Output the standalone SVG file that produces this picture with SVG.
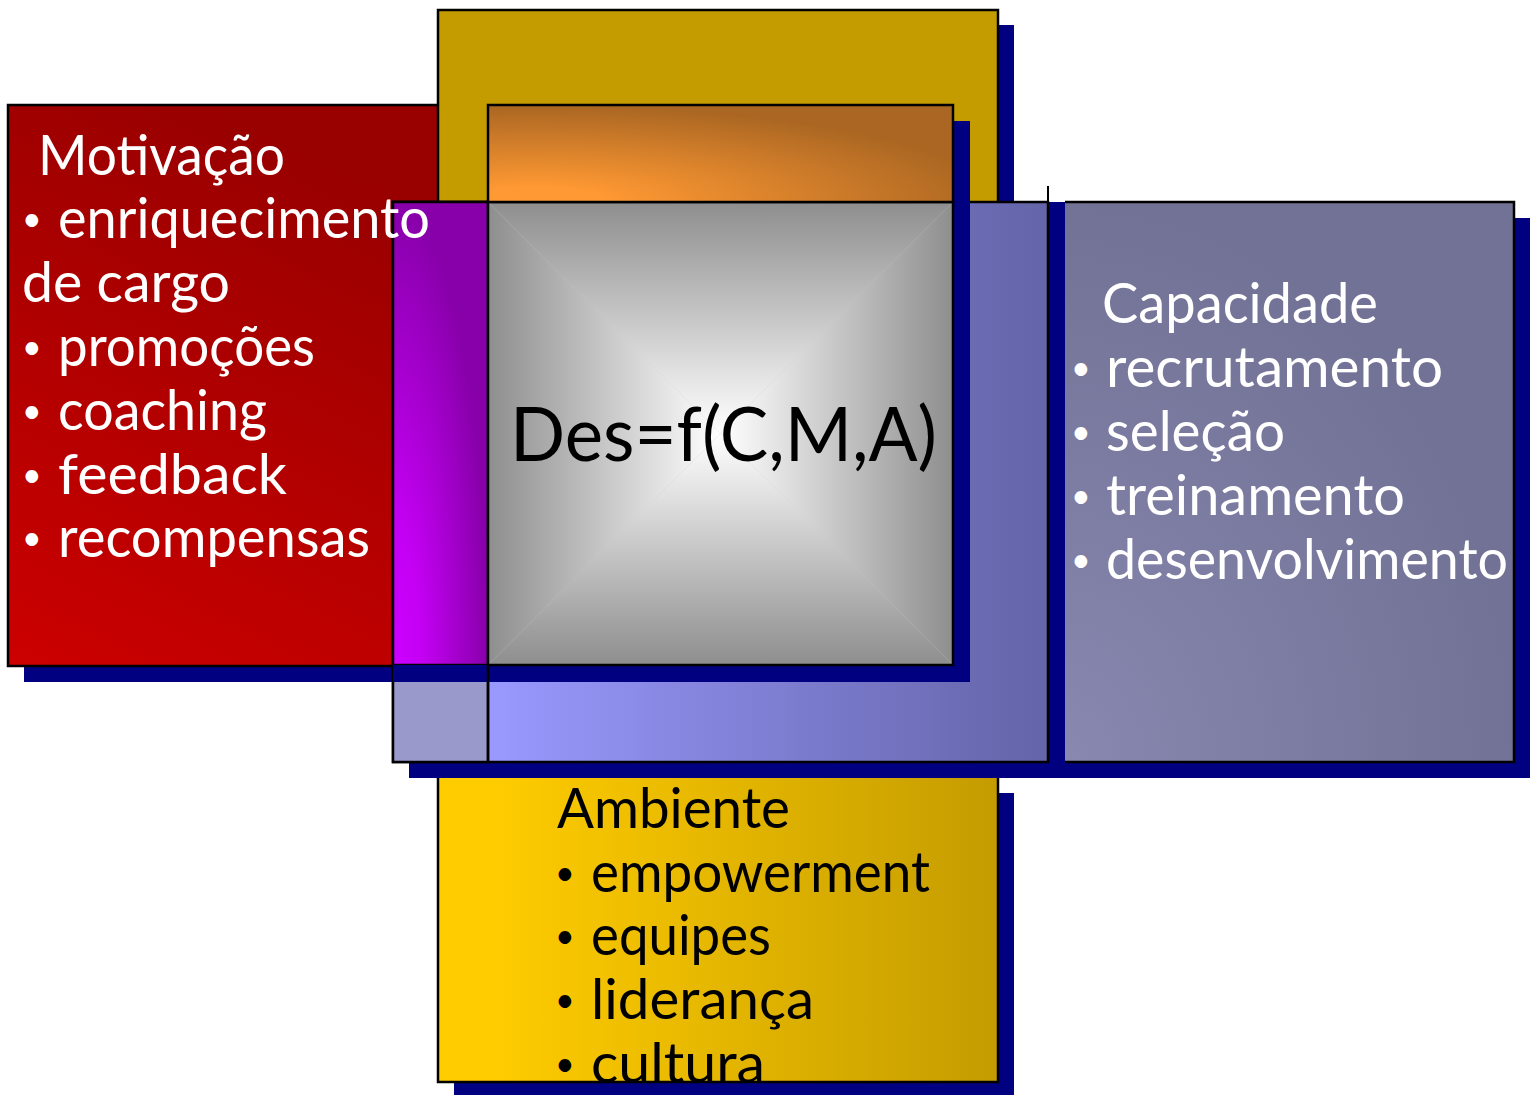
<svg xmlns="http://www.w3.org/2000/svg" width="1533" height="1095" viewBox="0 0 1533 1095">
<defs>
<style>
.sh{fill:#000080}
.bd{stroke:#000;stroke-width:2.5}
.tw{fill:#fff;font-family:Lato,"Open Sans","DejaVu Sans",sans-serif;font-size:56px}
.tb{fill:#000;font-family:Lato,"Open Sans","DejaVu Sans",sans-serif;font-size:56px}
.tf{fill:#000;font-family:Lato,"Open Sans","DejaVu Sans",sans-serif;font-size:76px}
.bu{font-size:34px}
</style>
<linearGradient id="gRed" x1="0.4" y1="0" x2="0" y2="1"><stop offset="0" stop-color="#990000"/><stop offset="1" stop-color="#cc0000"/></linearGradient>
<linearGradient id="gAmb" x1="0" y1="0" x2="1" y2="0"><stop offset="0" stop-color="#ffcc00"/><stop offset="0.1" stop-color="#ffcc00"/><stop offset="1" stop-color="#c49c00"/></linearGradient>
<linearGradient id="gBlue" gradientUnits="userSpaceOnUse" x1="488" y1="0" x2="1048" y2="0"><stop offset="0" stop-color="#9999ff"/><stop offset="1" stop-color="#6464a8"/></linearGradient>
<radialGradient id="gMag" cx="0" cy="1" r="1" fx="0" fy="1"><stop offset="0" stop-color="#cc00ff"/><stop offset="0.3" stop-color="#c400f4"/><stop offset="1" stop-color="#8800aa"/></radialGradient>
<radialGradient id="gOra" cx="0.1" cy="1" r="1" fx="0.1" fy="1"><stop offset="0" stop-color="#ff9933"/><stop offset="0.15" stop-color="#ff9933"/><stop offset="1" stop-color="#aa6622"/></radialGradient>
<radialGradient id="gCap" cx="0" cy="1" r="1" fx="0" fy="1"><stop offset="0" stop-color="#8888b0"/><stop offset="1" stop-color="#727296"/></radialGradient>
<linearGradient id="gT" gradientUnits="userSpaceOnUse" x1="0" y1="202" x2="0" y2="433.5"><stop offset="0" stop-color="#8e8e8e"/><stop offset="1" stop-color="#ffffff"/></linearGradient>
<linearGradient id="gB" gradientUnits="userSpaceOnUse" x1="0" y1="665" x2="0" y2="433.5"><stop offset="0" stop-color="#8e8e8e"/><stop offset="1" stop-color="#ffffff"/></linearGradient>
<linearGradient id="gL" gradientUnits="userSpaceOnUse" x1="488" y1="0" x2="720.5" y2="0"><stop offset="0" stop-color="#8e8e8e"/><stop offset="1" stop-color="#ffffff"/></linearGradient>
<linearGradient id="gR" gradientUnits="userSpaceOnUse" x1="953" y1="0" x2="720.5" y2="0"><stop offset="0" stop-color="#8e8e8e"/><stop offset="1" stop-color="#ffffff"/></linearGradient>
</defs>

<g id="motivacao-box">
<rect class="sh" x="24" y="121" width="465" height="561"/>
<rect class="bd" x="8" y="105" width="481" height="561" fill="url(#gRed)"/>
</g>

<g id="topo">
<rect class="sh" x="454" y="25" width="560" height="300"/>
<rect class="bd" x="438" y="10" width="560" height="300" fill="#c49c00"/>
</g>

<g id="ambiente-box">
<rect class="sh" x="454" y="793" width="560" height="310"/>
<rect class="bd" x="438" y="700" width="560" height="382" fill="url(#gAmb)"/>
</g>

<g id="moldura">
<rect class="sh" x="409" y="218" width="655" height="560"/>
<rect class="sh" x="1048" y="202" width="33" height="576"/>
<rect class="bd" x="393" y="202" width="655" height="560" fill="url(#gBlue)"/>
<rect class="bd" x="393" y="202" width="95" height="560" fill="#9999cc"/>
<rect class="bd" x="393" y="202" width="95" height="463" fill="url(#gMag)"/>
<line x1="1048" y1="186" x2="1048" y2="202" stroke="#000" stroke-width="2"/>
</g>

<g id="centro">
<rect class="sh" x="504" y="121" width="466" height="561"/>
<rect class="sh" x="393" y="665" width="111" height="17"/>
<line x1="488" y1="665" x2="488" y2="762" stroke="#000" stroke-width="2.5"/>
<rect x="488" y="202" width="465" height="463" fill="#c6c6c6"/>
<polygon points="488,202 953,202 720.5,433.5" fill="url(#gT)"/>
<polygon points="488,665 953,665 720.5,433.5" fill="url(#gB)"/>
<polygon points="488,202 488,665 720.5,433.5" fill="url(#gL)"/>
<polygon points="953,202 953,665 720.5,433.5" fill="url(#gR)"/>
<rect class="bd" x="488" y="202" width="465" height="463" fill="none"/>
<rect class="bd" x="488" y="105" width="465" height="97" fill="url(#gOra)"/>
<text class="tf" x="510" y="461" textLength="427" lengthAdjust="spacingAndGlyphs">Des=f(C,M,A)</text>
</g>

<g id="capacidade-box">
<rect class="sh" x="1081" y="218" width="449" height="560"/>
<rect x="1065" y="202" width="449" height="560" fill="url(#gCap)"/>
<path d="M1065,202 H1514 V762 H1065" fill="none" stroke="#000" stroke-width="2.5"/>
</g>

<g id="motivacao">
<text class="tw" x="38" y="175" textLength="247" lengthAdjust="spacingAndGlyphs">Motivação</text>
<text class="tw" y="238"><tspan class="bu" x="22" dy="-7">•</tspan><tspan x="58" dy="7" textLength="372" lengthAdjust="spacingAndGlyphs">enriquecimento</tspan></text>
<text class="tw" x="22" y="302" textLength="208" lengthAdjust="spacingAndGlyphs">de cargo</text>
<text class="tw" y="366"><tspan class="bu" x="22" dy="-7">•</tspan><tspan x="58" dy="7" textLength="257" lengthAdjust="spacingAndGlyphs">promoções</tspan></text>
<text class="tw" y="430"><tspan class="bu" x="22" dy="-7">•</tspan><tspan x="58" dy="7" textLength="209" lengthAdjust="spacingAndGlyphs">coaching</tspan></text>
<text class="tw" y="494"><tspan class="bu" x="22" dy="-7">•</tspan><tspan x="58" dy="7" textLength="229" lengthAdjust="spacingAndGlyphs">feedback</tspan></text>
<text class="tw" y="557"><tspan class="bu" x="22" dy="-7">•</tspan><tspan x="58" dy="7" textLength="312" lengthAdjust="spacingAndGlyphs">recompensas</tspan></text>
</g>

<g id="capacidade">
<text class="tw" x="1102" y="323" textLength="276" lengthAdjust="spacingAndGlyphs">Capacidade</text>
<text class="tw" y="387"><tspan class="bu" x="1071" dy="-7">•</tspan><tspan x="1106" dy="7" textLength="337" lengthAdjust="spacingAndGlyphs">recrutamento</tspan></text>
<text class="tw" y="451"><tspan class="bu" x="1071" dy="-7">•</tspan><tspan x="1106" dy="7" textLength="179" lengthAdjust="spacingAndGlyphs">seleção</tspan></text>
<text class="tw" y="515"><tspan class="bu" x="1071" dy="-7">•</tspan><tspan x="1106" dy="7" textLength="299" lengthAdjust="spacingAndGlyphs">treinamento</tspan></text>
<text class="tw" y="579"><tspan class="bu" x="1071" dy="-7">•</tspan><tspan x="1106" dy="7" textLength="402" lengthAdjust="spacingAndGlyphs">desenvolvimento</tspan></text>
</g>

<g id="ambiente">
<text class="tb" x="557" y="828" textLength="233" lengthAdjust="spacingAndGlyphs">Ambiente</text>
<text class="tb" y="892"><tspan class="bu" x="555" dy="-7">•</tspan><tspan x="591" dy="7" textLength="339" lengthAdjust="spacingAndGlyphs">empowerment</tspan></text>
<text class="tb" y="955"><tspan class="bu" x="555" dy="-7">•</tspan><tspan x="591" dy="7" textLength="180" lengthAdjust="spacingAndGlyphs">equipes</tspan></text>
<text class="tb" y="1019"><tspan class="bu" x="555" dy="-7">•</tspan><tspan x="591" dy="7" textLength="223" lengthAdjust="spacingAndGlyphs">liderança</tspan></text>
<text class="tb" y="1083"><tspan class="bu" x="555" dy="-7">•</tspan><tspan x="591" dy="7" textLength="174" lengthAdjust="spacingAndGlyphs">cultura</tspan></text>
</g>

<g id="connectors"/>
</svg>
